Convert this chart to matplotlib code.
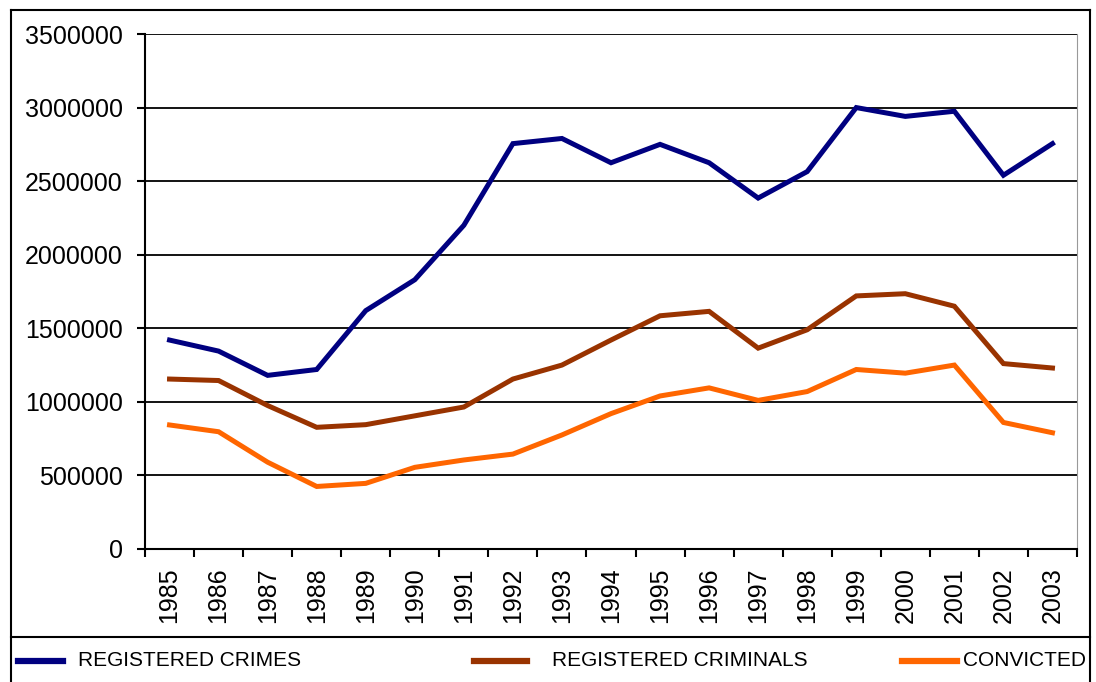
import matplotlib.pyplot as plt
import numpy as np
from matplotlib.lines import Line2D

plt.rcParams['font.family'] = ['Liberation Sans', 'DejaVu Sans']

years = [str(y) for y in range(1985, 2004)]

registered_crimes = [1420000, 1345000, 1180000, 1220000, 1620000, 1830000, 2200000,
                     2755000, 2790000, 2625000, 2750000, 2625000, 2385000, 2565000,
                     3000000, 2940000, 2975000, 2540000, 2755000]
registered_criminals = [1155000, 1145000, 975000, 827000, 845000, 905000, 965000,
                        1155000, 1250000, 1420000, 1585000, 1615000, 1365000, 1490000,
                        1720000, 1735000, 1650000, 1260000, 1230000]
convicted = [843000, 797000, 590000, 425000, 446000, 555000, 605000,
             645000, 775000, 920000, 1040000, 1095000, 1010000, 1070000,
             1220000, 1195000, 1250000, 860000, 790000]

series_names = ["REGISTERED CRIMES", "REGISTERED CRIMINALS", "CONVICTED"]
colors = ["#000080", "#993300", "#FF6600"]

W, H = 1096, 682
fig = plt.figure(figsize=(W / 100, H / 100), dpi=100)
ax = fig.add_axes([145 / W, 1 - 549 / H, (1077 - 145) / W, (549 - 34) / H])

x = np.arange(len(years))
for vals, c in zip([registered_crimes, registered_criminals, convicted], colors):
    ax.plot(x, vals, color=c, lw=3.6, solid_joinstyle='miter', zorder=3)

ax.set_xlim(-0.5, len(years) - 0.5)
ax.set_ylim(0, 3500000)
ax.set_yticks(np.arange(0, 3500001, 500000))
ax.set_yticklabels([str(v) for v in range(0, 3500001, 500000)], fontsize=18)
ax.set_xticks(x)
ax.set_xticklabels(years, rotation=90, fontsize=18)
ax.set_xticks(np.arange(-0.5, len(years), 1), minor=True)
ax.tick_params(axis='x', which='major', length=0, pad=13)
ax.tick_params(axis='x', which='minor', length=6, width=1.5, direction='out')
ax.tick_params(axis='y', length=6, width=1.5, direction='out', pad=10)

ax.grid(axis='y', color='black', lw=1.3, zorder=1)
ax.spines['left'].set_linewidth(1.5)
ax.spines['bottom'].set_linewidth(1.5)
ax.spines['top'].set_visible(False)
ax.spines['right'].set_color('#999999')

# rahmen und legende
fig.add_artist(Line2D([11 / W, 11 / W], [0, 1 - 10 / H], color='black', lw=1.5))
fig.add_artist(Line2D([11 / W, 1090 / W], [1 - 10 / H, 1 - 10 / H], color='black', lw=1.5))
fig.add_artist(Line2D([1090 / W, 1090 / W], [0, 1 - 10 / H], color='black', lw=1.5))
fig.add_artist(Line2D([11 / W, 1090 / W], [1 - 637 / H, 1 - 637 / H], color='black', lw=1.5))

leg_y = 1 - 661 / H
leg_lines = [(18, 63, 78), (474, 527, 552), (902, 957, 963)]
for (x0, x1, tx), name, c in zip(leg_lines, series_names, colors):
    fig.add_artist(Line2D([x0 / W, x1 / W], [leg_y, leg_y], color=c, lw=4.5))
    fig.text(tx / W, leg_y, name, fontsize=15, va='center', ha='left')

fig.savefig("out.png", dpi=100)
